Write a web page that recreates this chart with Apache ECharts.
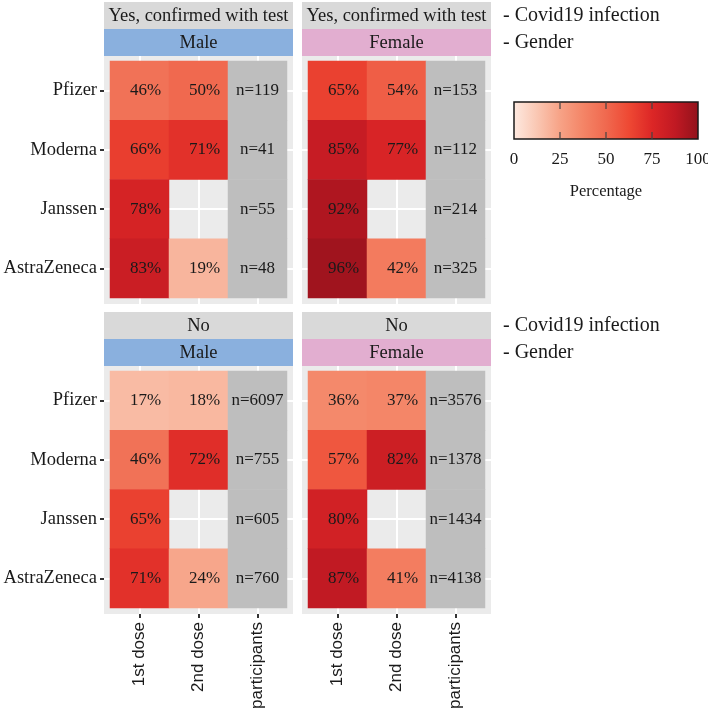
<!DOCTYPE html>
<html><head><meta charset="utf-8">
<script src="https://cdn.jsdelivr.net/npm/echarts@6/dist/echarts.min.js"></script>
<style>html,body{margin:0;padding:0;background:#fff}#c{width:708px;height:714px}</style>
</head><body><div id="c"></div>
<script>
// ---- data ----
const vaccines = ['Pfizer', 'Moderna', 'Janssen', 'AstraZeneca'];
const doses = ['1st dose', '2nd dose', 'participants'];
const infectionLabels = ['Yes, confirmed with test', 'No'];
const genderLabels = ['Male', 'Female'];
const facetLabels = ['- Covid19 infection', '- Gender'];

const yesMaleDose1 = [46, 66, 78, 83];
const yesMaleDose2 = [50, 71, null, 19];
const yesMaleN = [119, 41, 55, 48];

const yesFemaleDose1 = [65, 85, 92, 96];
const yesFemaleDose2 = [54, 77, null, 42];
const yesFemaleN = [153, 112, 214, 325];

const noMaleDose1 = [17, 46, 65, 71];
const noMaleDose2 = [18, 72, null, 24];
const noMaleN = [6097, 755, 605, 760];

const noFemaleDose1 = [36, 57, 80, 87];
const noFemaleDose2 = [37, 82, null, 41];
const noFemaleN = [3576, 1378, 1434, 4138];

const legendTicks = [0, 25, 50, 75, 100];
const legendTitle = 'Percentage';
const colorStops = ['#feeae1', '#fac8b4', '#f7a387', '#f48567', '#f0694f', '#ee4833', '#dc2626', '#c01923', '#91121b'];

// ---- layout ----
const SERIF = 'Liberation Serif';
const SANS = 'Liberation Sans';
const TXT = '#1a1a1a';
const tileLeft = [110, 308];
const tileTop = [61, 371];
const tileW = 177, tileH = 237;
const padL = 6, padR = 6, padT = 5, padB = 6;

const panels = [
  { col: 0, row: 0, d1: yesMaleDose1, d2: yesMaleDose2, n: yesMaleN },
  { col: 1, row: 0, d1: yesFemaleDose1, d2: yesFemaleDose2, n: yesFemaleN },
  { col: 0, row: 1, d1: noMaleDose1, d2: noMaleDose2, n: noMaleN },
  { col: 1, row: 1, d1: noFemaleDose1, d2: noFemaleDose2, n: noFemaleN }
];
const stripFill = ['#8ab0de', '#e2aed0'];

const grids = [], xAxes = [], yAxes = [], series = [], graphics = [];
const pctSeriesIdx = [];
const oddOnly = (i) => i % 2 === 1;
const whiteLine = { color: '#ffffff', width: 2 };

panels.forEach((p, pi) => {
  const gl = tileLeft[p.col], gt = tileTop[p.row];
  grids.push({ left: gl, top: gt, width: tileW, height: tileH, containLabel: false });
  const isBottom = p.row === 1, isLeft = p.col === 0;
  // real x axis
  xAxes.push({
    type: 'category', gridIndex: pi, data: doses, position: 'bottom', offset: padB,
    axisLine: { show: false },
    axisTick: { show: isBottom, alignWithLabel: true, length: 4, lineStyle: { color: '#333', width: 2 } },
    axisLabel: { show: isBottom, rotate: 90, margin: 8, fontFamily: SANS, fontSize: 17, color: TXT },
    splitLine: { show: false }
  });
  // overlay x (grid lines + top stubs)
  xAxes.push({
    type: 'category', gridIndex: pi, data: ['', '', '', '', '', '', ''], boundaryGap: false, position: 'top',
    axisLine: { show: false }, axisLabel: { show: false },
    axisTick: { show: true, interval: oddOnly, length: padT, lineStyle: whiteLine },
    splitLine: { show: true, interval: oddOnly, lineStyle: whiteLine }
  });
  // overlay x bottom stubs
  xAxes.push({
    type: 'category', gridIndex: pi, data: ['', '', '', '', '', '', ''], boundaryGap: false, position: 'bottom',
    axisLine: { show: false }, axisLabel: { show: false },
    axisTick: { show: true, interval: oddOnly, length: padB, lineStyle: whiteLine },
    splitLine: { show: false }
  });
  // real y axis
  yAxes.push({
    type: 'category', gridIndex: pi, data: vaccines, inverse: true, position: 'left', offset: padL,
    axisLine: { show: false },
    axisTick: { show: isLeft, alignWithLabel: true, length: 4, lineStyle: { color: '#333', width: 2 } },
    axisLabel: { show: isLeft, margin: 7, fontFamily: SERIF, fontSize: 18.5, color: TXT },
    splitLine: { show: false }
  });
  yAxes.push({
    type: 'category', gridIndex: pi, data: ['', '', '', '', '', '', '', '', ''], boundaryGap: false, position: 'left',
    axisLine: { show: false }, axisLabel: { show: false },
    axisTick: { show: true, interval: oddOnly, length: padL, lineStyle: whiteLine },
    splitLine: { show: true, interval: oddOnly, lineStyle: whiteLine }
  });
  yAxes.push({
    type: 'category', gridIndex: pi, data: ['', '', '', '', '', '', '', '', ''], boundaryGap: false, position: 'right',
    axisLine: { show: false }, axisLabel: { show: false },
    axisTick: { show: true, interval: oddOnly, length: padR, lineStyle: whiteLine },
    splitLine: { show: false }
  });

  const pctData = [];
  vaccines.forEach((v, vi) => {
    if (p.d1[vi] != null) pctData.push([0, vi, p.d1[vi]]);
    if (p.d2[vi] != null) pctData.push([1, vi, p.d2[vi]]);
  });
  const nData = vaccines.map((v, vi) => [2, vi, p.n[vi]]);

  pctSeriesIdx.push(series.length);
  series.push({
    type: 'heatmap', xAxisIndex: pi * 3, yAxisIndex: pi * 3, data: pctData,
    emphasis: { disabled: true },
    label: { show: true, formatter: (d) => d.value[2] + '%', offset: [6, 0], fontFamily: SERIF, fontSize: 17, color: TXT }
  });
  series.push({
    type: 'heatmap', xAxisIndex: pi * 3, yAxisIndex: pi * 3, data: nData,
    itemStyle: { color: '#bebebe' },
    emphasis: { disabled: true },
    label: { show: true, formatter: (d) => 'n=' + d.value[2], fontFamily: SERIF, fontSize: 17, color: TXT }
  });

  // panel background
  graphics.push({
    type: 'rect', z: -10, silent: true,
    shape: { x: gl - padL, y: gt - padT, width: tileW + padL + padR, height: tileH + padT + padB },
    style: { fill: '#ebebeb' }
  });
  // strips
  const sx = gl - padL, sw = tileW + padL + padR;
  const s1y = gt - padT - 54, s2y = gt - padT - 27;
  graphics.push({ type: 'rect', z: -10, silent: true, shape: { x: sx, y: s1y, width: sw, height: 27 }, style: { fill: '#d9d9d9' } });
  graphics.push({ type: 'rect', z: -10, silent: true, shape: { x: sx, y: s2y, width: sw, height: 27 }, style: { fill: stripFill[p.col] } });
  graphics.push({ type: 'text', silent: true, style: { text: infectionLabels[p.row], x: sx + sw / 2, y: s1y + 14, textAlign: 'center', textVerticalAlign: 'middle', fontFamily: SERIF, fontSize: 18.5, fill: TXT } });
  graphics.push({ type: 'text', silent: true, style: { text: genderLabels[p.col], x: sx + sw / 2, y: s2y + 14, textAlign: 'center', textVerticalAlign: 'middle', fontFamily: SERIF, fontSize: 18.5, fill: TXT } });
  if (p.col === 1) {
    graphics.push({ type: 'text', silent: true, style: { text: facetLabels[0], x: 503, y: s1y + 14, textAlign: 'left', textVerticalAlign: 'middle', fontFamily: SERIF, fontSize: 20, fill: TXT } });
    graphics.push({ type: 'text', silent: true, style: { text: facetLabels[1], x: 503, y: s2y + 14, textAlign: 'left', textVerticalAlign: 'middle', fontFamily: SERIF, fontSize: 20, fill: TXT } });
  }
});

// colour bar legend
const cbX = 514, cbY = 102, cbW = 184, cbH = 37;
graphics.push({
  type: 'rect', silent: true, shape: { x: cbX, y: cbY, width: cbW, height: cbH },
  style: {
    fill: { type: 'linear', x: 0, y: 0, x2: 1, y2: 0, colorStops: colorStops.map((c, i) => ({ offset: i / (colorStops.length - 1), color: c })) },
    stroke: '#1a1a1a', lineWidth: 1.5
  }
});
legendTicks.forEach((t) => {
  const x = cbX + t / 100 * cbW;
  if (t > 0 && t < 100) {
    graphics.push({ type: 'line', silent: true, shape: { x1: x, y1: cbY, x2: x, y2: cbY + 7 }, style: { stroke: '#444', lineWidth: 1.2 } });
    graphics.push({ type: 'line', silent: true, shape: { x1: x, y1: cbY + cbH - 7, x2: x, y2: cbY + cbH }, style: { stroke: '#444', lineWidth: 1.2 } });
  }
  graphics.push({ type: 'text', silent: true, style: { text: String(t), x: x, y: 160, textAlign: 'center', textVerticalAlign: 'middle', fontFamily: SERIF, fontSize: 17, fill: TXT } });
});
graphics.push({ type: 'text', silent: true, style: { text: legendTitle, x: cbX + cbW / 2, y: 192, textAlign: 'center', textVerticalAlign: 'middle', fontFamily: SERIF, fontSize: 16.5, fill: TXT } });

const chart = echarts.init(document.getElementById('c'), null, { renderer: 'canvas' });
chart.setOption({
  animation: false,
  backgroundColor: '#ffffff',
  grid: grids,
  xAxis: xAxes,
  yAxis: yAxes,
  visualMap: {
    type: 'continuous', show: false, min: 0, max: 100, seriesIndex: pctSeriesIdx,
    inRange: { color: colorStops }
  },
  graphic: { elements: graphics },
  series: series
});
</script>
</body></html>
